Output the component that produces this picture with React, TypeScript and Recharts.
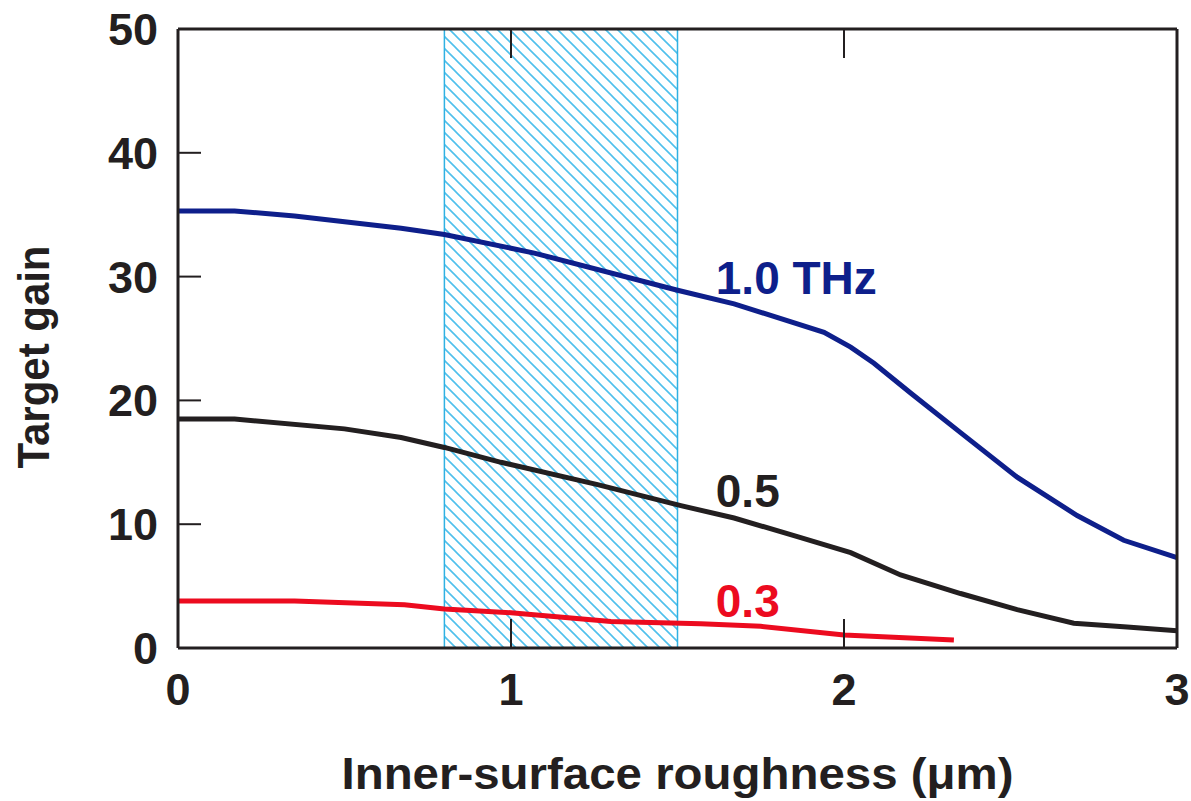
import React from "react"
import {
  ComposedChart,
  Line,
  XAxis,
  YAxis,
  ReferenceArea,
  ReferenceDot
} from "recharts"

const FONT = '"Liberation Sans", Arial, Helvetica, sans-serif'
const INK = "#231f20"
const BLUE = "#0e1f8b"
const RED = "#ec0b1f"
const CYAN = "#2fb1e2"
const HATCH = "#4fc0ec"

// axis ticks
const xTicks = [0, 1, 2, 3]
const yTicks = [0, 10, 20, 30, 40, 50]
const innerXTicks = [1, 2]
const innerYTicks = [10, 20, 30, 40]

// 1.0 THz
const rough10 = [0, 0.17, 0.35, 0.67, 0.8, 1.07, 1.5, 1.67, 1.94, 2.02, 2.09, 2.2, 2.35, 2.52, 2.7, 2.84, 3.0]
const gain10 = [35.3, 35.3, 34.9, 33.9, 33.4, 31.9, 28.9, 27.8, 25.5, 24.3, 23.0, 20.6, 17.4, 13.8, 10.7, 8.7, 7.3]

// 0.5 THz
const rough05 = [0, 0.17, 0.5, 0.67, 0.8, 0.97, 1.26, 1.51, 1.67, 1.86, 2.02, 2.17, 2.35, 2.52, 2.69, 2.85, 3.0]
const gain05 = [18.5, 18.5, 17.7, 17.0, 16.2, 15.0, 13.2, 11.5, 10.5, 9.0, 7.7, 5.9, 4.4, 3.1, 2.0, 1.7, 1.4]

// 0.3 THz
const rough03 = [0, 0.35, 0.68, 0.8, 1.0, 1.3, 1.57, 1.75, 2.0, 2.33]
const gain03 = [3.8, 3.8, 3.5, 3.15, 2.85, 2.15, 1.95, 1.75, 1.05, 0.65]

// hatched band (um)
const bandFrom = 0.8
const bandTo = 1.5

// curve labels
const curveLabels = [
  { text: "1.0 THz", x: 1.615, y: 29.9, color: BLUE },
  { text: "0.5", x: 1.615, y: 12.7, color: INK },
  { text: "0.3", x: 1.615, y: 3.8, color: RED }
]

const zip = (xs: number[], ys: number[]) => xs.map((x, i) => ({ x, y: ys[i] }))

const series = [
  { name: "1.0 THz", data: zip(rough10, gain10), color: BLUE },
  { name: "0.5 THz", data: zip(rough05, gain05), color: INK },
  { name: "0.3 THz", data: zip(rough03, gain03), color: RED }
]

// layout
const W = 1191
const H = 801
const MARGIN = { top: 28, right: 14, left: 0, bottom: 0 }
const Y_AXIS_W = 178
const X_AXIS_H = 153
const TOP_AXIS_H = 1
const PLOT_LEFT = MARGIN.left + Y_AXIS_W
const PLOT_TOP = MARGIN.top + TOP_AXIS_H
const PLOT_BOTTOM = H - MARGIN.bottom - X_AXIS_H

const X_MARGIN = 25
const Y_MARGIN = 20
const X_TICK_LEN = 29
const Y_TICK_LEN = 23
const HATCH_GAP = 12

// x tick: label below, short marks pointing into the plot from bottom and top
const BottomTick = (props: any) => {
  const { x, y, payload } = props
  const inner = innerXTicks.includes(payload.value)
  return (
    <g>
      {inner && (
        <line x1={x} x2={x} y1={PLOT_BOTTOM} y2={PLOT_BOTTOM - X_TICK_LEN} stroke={INK} strokeWidth={2} />
      )}
      {inner && (
        <line x1={x} x2={x} y1={PLOT_TOP} y2={PLOT_TOP + X_TICK_LEN} stroke={INK} strokeWidth={2} />
      )}
      <text x={x} y={y} dy="0.71em" textAnchor="middle" fontFamily={FONT} fontWeight={700} fontSize={45} fill={INK}>
        {payload.value}
      </text>
    </g>
  )
}

// y tick: label, mark pointing right into the plot
const LeftTick = (props: any) => {
  const { x, y, payload } = props
  return (
    <g>
      {innerYTicks.includes(payload.value) && (
        <line x1={PLOT_LEFT} x2={PLOT_LEFT + Y_TICK_LEN} y1={y} y2={y} stroke={INK} strokeWidth={2} />
      )}
      <text x={x} y={y} dy="0.355em" textAnchor="end" fontFamily={FONT} fontWeight={700} fontSize={45} fill={INK}>
        {payload.value}
      </text>
    </g>
  )
}

export default function App() {
  const g = HATCH_GAP
  return (
    <div style={{ position: "absolute", left: 0, top: 0, background: "#fff" }}>
      <ComposedChart width={W} height={H} margin={MARGIN}>
        <defs>
          <pattern id="hatch" patternUnits="userSpaceOnUse" width={g} height={g}>
            <path
              d={`M-1,-1 L${g + 1},${g + 1} M-1,${g - 1} L1,${g + 1} M${g - 1},-1 L${g + 1},1`}
              stroke={HATCH}
              strokeWidth={1.6}
            />
          </pattern>
        </defs>

        <ReferenceArea
          xAxisId="x"
          yAxisId="y"
          x1={bandFrom}
          x2={bandTo}
          y1={0}
          y2={50}
          fill="url(#hatch)"
          fillOpacity={1}
          stroke={CYAN}
          strokeWidth={1.5}
        />

        <XAxis
          xAxisId="x"
          dataKey="x"
          type="number"
          domain={[0, 3]}
          ticks={xTicks}
          allowDuplicatedCategory={false}
          height={X_AXIS_H}
          tickLine={false}
          tickSize={0}
          tickMargin={X_MARGIN}
          axisLine={{ stroke: INK, strokeWidth: 3 }}
          tick={<BottomTick />}
          label={{
            content: ({ viewBox }: any) => (
              <text
                x={viewBox.x + viewBox.width / 2}
                y={viewBox.y + 141}
                textAnchor="middle"
                fontFamily={FONT}
                fontWeight={700}
                fontSize={45}
                fill={INK}
                textLength={672}
                lengthAdjust="spacingAndGlyphs"
              >
                Inner-surface roughness (μm)
              </text>
            )
          }}
        />
        <XAxis
          xAxisId="xt"
          dataKey="x"
          type="number"
          domain={[0, 3]}
          orientation="top"
          height={TOP_AXIS_H}
          tick={false}
          tickLine={false}
          axisLine={{ stroke: INK, strokeWidth: 3 }}
        />

        <YAxis
          yAxisId="y"
          type="number"
          domain={[0, 50]}
          ticks={yTicks}
          width={Y_AXIS_W}
          tickLine={false}
          tickSize={0}
          tickMargin={Y_MARGIN}
          axisLine={{ stroke: INK, strokeWidth: 3 }}
          tick={<LeftTick />}
          label={{
            content: () => (
              <text
                x={49}
                y={357}
                transform="rotate(-90, 49, 357)"
                textAnchor="middle"
                fontFamily={FONT}
                fontWeight={700}
                fontSize={45}
                fill={INK}
                textLength={223}
                lengthAdjust="spacingAndGlyphs"
              >
                Target gain
              </text>
            )
          }}
        />
        <YAxis
          yAxisId="yr"
          type="number"
          domain={[0, 50]}
          orientation="right"
          mirror
          tick={false}
          tickLine={false}
          axisLine={{ stroke: INK, strokeWidth: 3 }}
        />

        {series.map((s) => (
          <Line
            key={s.name}
            xAxisId="x"
            yAxisId="y"
            data={s.data}
            dataKey="y"
            name={s.name}
            type="linear"
            stroke={s.color}
            strokeWidth={5}
            dot={false}
            activeDot={false}
            isAnimationActive={false}
          />
        ))}

        {curveLabels.map((c) => (
          <ReferenceDot
            key={c.text}
            xAxisId="x"
            yAxisId="y"
            x={c.x}
            y={c.y}
            r={0}
            stroke="none"
            fill="none"
            label={{
              value: c.text,
              position: "right",
              offset: 0,
              fill: c.color,
              fontFamily: FONT,
              fontWeight: 700,
              fontSize: 46
            }}
          />
        ))}
      </ComposedChart>
    </div>
  )
}
